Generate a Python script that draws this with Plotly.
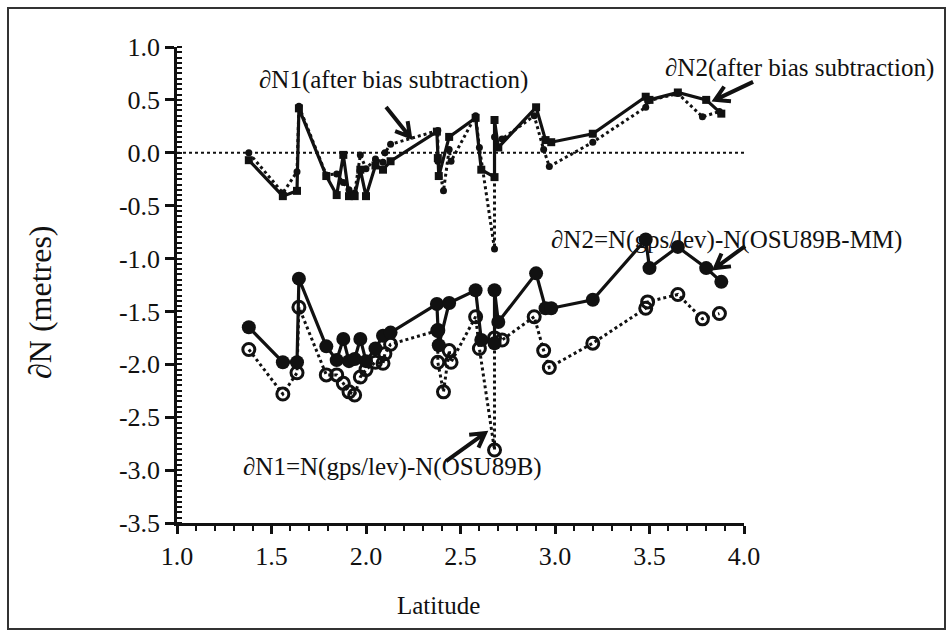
import math
import plotly.graph_objects as go

# ∂N2 = N(gps/lev) - N(OSU89B-MM), and the same stations after bias subtraction
n2_lat = [1.38, 1.56, 1.635, 1.645, 1.79, 1.845, 1.88, 1.91, 1.94, 1.97,
          2.00, 2.05, 2.09, 2.13, 2.375, 2.38, 2.385, 2.44, 2.58, 2.61,
          2.68, 2.68, 2.70, 2.90, 2.95, 2.98, 3.20, 3.48, 3.50, 3.65,
          3.80, 3.88]
n2_val = [-1.65, -1.98, -1.98, -1.19, -1.83, -1.96, -1.76, -1.97, -1.95, -1.76,
          -1.97, -1.85, -1.73, -1.70, -1.43, -1.68, -1.82, -1.42, -1.30, -1.77,
          -1.80, -1.30, -1.60, -1.14, -1.47, -1.47, -1.39, -0.82, -1.09, -0.89,
          -1.09, -1.22]
n2_unbiased = [-0.07, -0.41, -0.36, 0.42, -0.22, -0.40, -0.02, -0.41, -0.41, -0.16,
               -0.41, -0.12, -0.16, -0.08, 0.20, -0.05, -0.22, 0.15, 0.33, -0.16,
               -0.23, 0.31, 0.05, 0.43, 0.12, 0.10, 0.18, 0.53, 0.50, 0.57,
               0.50, 0.37]

# ∂N1 = N(gps/lev) - N(OSU89B), and the same stations after bias subtraction
n1_lat = [1.38, 1.56, 1.635, 1.645, 1.79, 1.845, 1.88, 1.91, 1.94, 1.97,
          2.00, 2.05, 2.09, 2.10, 2.13, 2.38, 2.38, 2.41, 2.44, 2.45,
          2.58, 2.60, 2.68, 2.68, 2.72, 2.89, 2.94, 2.97, 3.20, 3.48,
          3.49, 3.65, 3.78, 3.87]
n1_val = [-1.86, -2.28, -2.08, -1.46, -2.10, -2.10, -2.18, -2.26, -2.29, -2.12,
          -2.05, -1.98, -1.99, -1.90, -1.81, -1.68, -1.98, -2.26, -1.87, -1.98,
          -1.55, -1.85, -2.81, -1.75, -1.77, -1.55, -1.87, -2.03, -1.80, -1.47,
          -1.41, -1.34, -1.57, -1.52]
n1_unbiased = [0.00, -0.38, -0.18, 0.44, -0.21, -0.20, -0.28, -0.35, -0.38, -0.02,
               -0.15, -0.06, -0.09, 0.00, 0.08, 0.21, -0.08, -0.36, 0.03, -0.08,
               0.35, 0.05, -0.91, 0.15, 0.13, 0.35, 0.03, -0.13, 0.10, 0.43,
               0.49, 0.56, 0.34, 0.39]

x_ticks = [1.0, 1.5, 2.0, 2.5, 3.0, 3.5, 4.0]
x_ticktext = ["1.0", "1.5", "2.0", "2.5", "3.0", "3.5", "4.0"]
y_ticks = [1.0, 0.5, 0.0, -0.5, -1.0, -1.5, -2.0, -2.5, -3.0, -3.5]
y_ticktext = ["1.0", "0.5", "0.0", "-0.5", "-1.0", "-1.5", "-2.0", "-2.5", "-3.0", "-3.5"]

X_RANGE = [1.0, 4.0]
Y_RANGE = [-3.5, 1.0]

FONT = "Liberation Serif"
INK = "#111111"

fig = go.Figure()

# lower pair: raw differences
fig.add_trace(go.Scatter(
    x=n1_lat, y=n1_val, mode="lines+markers", name="∂N1",
    line=dict(color=INK, width=3, dash="dot"),
    marker=dict(symbol="circle-open", size=12, color=INK, line=dict(width=3, color=INK)),
))
fig.add_trace(go.Scatter(
    x=n2_lat, y=n2_val, mode="lines+markers", name="∂N2",
    line=dict(color=INK, width=3.2),
    marker=dict(symbol="circle", size=14, color=INK),
))

# upper pair: after bias subtraction
fig.add_trace(go.Scatter(
    x=n1_lat, y=n1_unbiased, mode="lines+markers", name="∂N1 (after bias subtraction)",
    line=dict(color=INK, width=3, dash="dot"),
    marker=dict(symbol="circle", size=7, color=INK),
))
fig.add_trace(go.Scatter(
    x=n2_lat, y=n2_unbiased, mode="lines+markers", name="∂N2 (after bias subtraction)",
    line=dict(color=INK, width=3.2),
    marker=dict(symbol="square", size=8, color=INK),
))

# zero reference line
fig.add_shape(type="line", xref="x", yref="y", x0=1.0, x1=4.0, y0=0, y1=0,
              line=dict(color=INK, width=2, dash="dot"), layer="below")


def to_paper(lat, val):
    return ((lat - X_RANGE[0]) / (X_RANGE[1] - X_RANGE[0]),
            (val - Y_RANGE[0]) / (Y_RANGE[1] - Y_RANGE[0]))


def chevron_arrow(tip_lat, tip_val, dx, dy, head=16):
    """Arrow pointing at (tip_lat, tip_val); the tail is offset by (dx, dy) screen pixels."""
    tx, ty = dx, -dy  # pixel-mode paths grow upwards
    length = math.hypot(tx, ty)
    ux, uy = tx / length, ty / length
    arms = []
    for ang in (math.radians(30), math.radians(-30)):
        c, s = math.cos(ang), math.sin(ang)
        arms.append(((ux * c - uy * s) * head, (ux * s + uy * c) * head))
    path = (f"M {tx:.1f},{ty:.1f} L 0,0 "
            f"M {arms[0][0]:.1f},{arms[0][1]:.1f} L 0,0 L {arms[1][0]:.1f},{arms[1][1]:.1f}")
    ax, ay = to_paper(tip_lat, tip_val)
    fig.add_shape(type="path", xref="paper", yref="paper", xsizemode="pixel", ysizemode="pixel",
                  xanchor=ax, yanchor=ay, path=path,
                  line=dict(color=INK, width=4))


chevron_arrow(2.233, 0.15, -24, -30)
chevron_arrow(3.847, 0.50, 38, -18)
chevron_arrow(3.847, -1.09, 30, -22)
chevron_arrow(2.63, -2.65, -39, 28)

labels = [
    (2.148, 0.69, "∂N1(after bias subtraction)"),
    (4.296, 0.80, "∂N2(after bias subtraction)"),
    (3.905, -0.82, "∂N2=N(gps/lev)-N(OSU89B-MM)"),
    (2.138, -2.97, "∂N1=N(gps/lev)-N(OSU89B)"),
]
for lx, ly, txt in labels:
    px, py = to_paper(lx, ly)
    fig.add_annotation(x=px, y=py, xref="paper", yref="paper", text=txt, showarrow=False,
                       xanchor="center", yanchor="middle",
                       font=dict(family=FONT, size=25, color=INK))

# axis titles
fig.add_annotation(x=(40 - 177) / 567, y=(523 - 302) / 476, xref="paper", yref="paper",
                   text="∂N (metres)", textangle=-90, showarrow=False,
                   xanchor="center", yanchor="middle",
                   font=dict(family=FONT, size=32, color=INK))
fig.add_annotation(x=(438 - 177) / 567, y=(523 - 605) / 476, xref="paper", yref="paper",
                   text="Latitude", showarrow=False,
                   xanchor="center", yanchor="middle",
                   font=dict(family=FONT, size=25, color=INK))

# outer frame
fig.add_shape(type="rect", xref="paper", yref="paper",
              x0=(8 - 177) / 567, x1=(945 - 177) / 567,
              y0=(523 - 629) / 476, y1=(523 - 8) / 476,
              line=dict(color="#333333", width=2), layer="below")

fig.update_layout(
    width=952, height=631,
    margin=dict(l=177, r=208, t=47, b=108),
    paper_bgcolor="white", plot_bgcolor="white",
    showlegend=False,
    font=dict(family=FONT, size=25, color=INK),
)
fig.update_xaxes(
    range=X_RANGE, tickvals=x_ticks, ticktext=x_ticktext,
    showline=True, linewidth=2.5, linecolor=INK, showgrid=False, zeroline=False,
    ticks="outside", ticklen=8, tickwidth=2.5, tickcolor=INK,
    minor=dict(dtick=0.1, tick0=1.0, ticks="outside", ticklen=5, tickwidth=2, tickcolor=INK),
    tickfont=dict(family=FONT, size=26, color=INK),
)
fig.update_yaxes(
    range=Y_RANGE, tickvals=y_ticks, ticktext=y_ticktext,
    showline=True, linewidth=2.5, linecolor=INK, showgrid=False, zeroline=False,
    ticks="outside", ticklen=9, tickwidth=2.5, tickcolor=INK,
    minor=dict(dtick=0.05, tick0=0.0, ticks="inside", ticklen=5, tickwidth=2, tickcolor=INK),
    tickfont=dict(family=FONT, size=26, color=INK),
)

fig.write_html("out.html")
